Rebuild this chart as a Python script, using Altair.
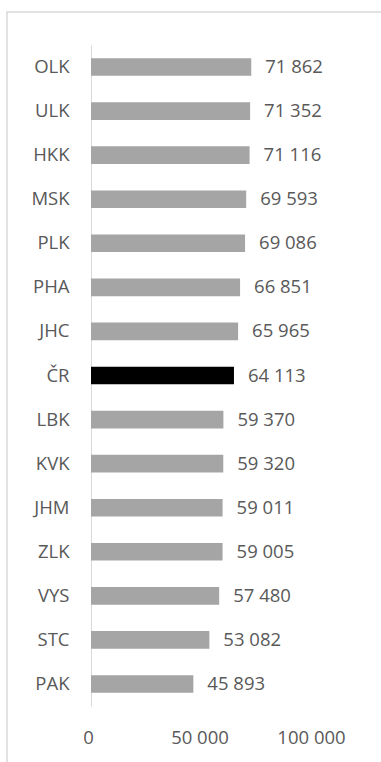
import altair as alt
import pandas as pd

regions = ["OLK", "ULK", "HKK", "MSK", "PLK", "PHA", "JHC", "ČR",
           "LBK", "KVK", "JHM", "ZLK", "VYS", "STC", "PAK"]
values = [71862, 71352, 71116, 69593, 69086, 66851, 65965, 64113,
          59370, 59320, 59011, 59005, 57480, 53082, 45893]
highlight = "ČR"

df = pd.DataFrame({"region": regions, "value": values})
df["is_total"] = df["region"] == highlight

FONT = "Open Sans"
TEXT_COLOR = "#595959"
FS = 18.5
W, H = 223, 661

y_enc = alt.Y("region:N", sort=regions, title=None,
              scale=alt.Scale(paddingInner=0.6, paddingOuter=0.3),
              axis=alt.Axis(ticks=False, labelPadding=22, labelFontSize=FS,
                            labelFont=FONT, labelColor=TEXT_COLOR,
                            domainColor="#d9d9d9", domainWidth=1))
x_enc = alt.X("value:Q", title=None,
              scale=alt.Scale(domain=[0, 100000], nice=False),
              axis=alt.Axis(values=[0, 50000, 100000], ticks=False, domain=False,
                            grid=False, labelPadding=22, labelFontSize=FS,
                            labelFont=FONT, labelColor=TEXT_COLOR, labelFlush=False,
                            labelOffset=-3,
                            labelExpr="replace(format(datum.value, ','), ',', ' ')"))

bars = alt.Chart(df).mark_bar().encode(
    y=y_enc,
    x=x_enc,
    color=alt.Color("is_total:N",
                    scale=alt.Scale(domain=[False, True], range=["#a5a5a5", "#000000"]),
                    legend=None),
)

labels = alt.Chart(df).transform_calculate(
    label="replace(format(datum.value, ','), ',', ' ')"
).mark_text(align="left", baseline="middle", dx=14, fontSize=FS,
            font=FONT, color=TEXT_COLOR).encode(
    y=alt.Y("region:N", sort=regions),
    x="value:Q",
    text="label:N",
)

# outer chart frame
frame = alt.Chart(pd.DataFrame({"k": [0]})).mark_rect(
    fill=None, stroke="#d9d9d9", strokeWidth=1.5
).encode(
    x=alt.value(-84), x2=alt.value(330),
    y=alt.value(-33), y2=alt.value(760),
)

chart = alt.layer(frame, bars, labels).properties(
    width=W, height=H,
    padding={"left": 91, "top": 45, "right": 67, "bottom": 56},
    autosize=alt.AutoSizeParams(type="none"),
    background="white",
).configure_view(strokeWidth=0, stroke="transparent")

chart.save("out.html", embed_options={"renderer": "svg", "actions": False})
